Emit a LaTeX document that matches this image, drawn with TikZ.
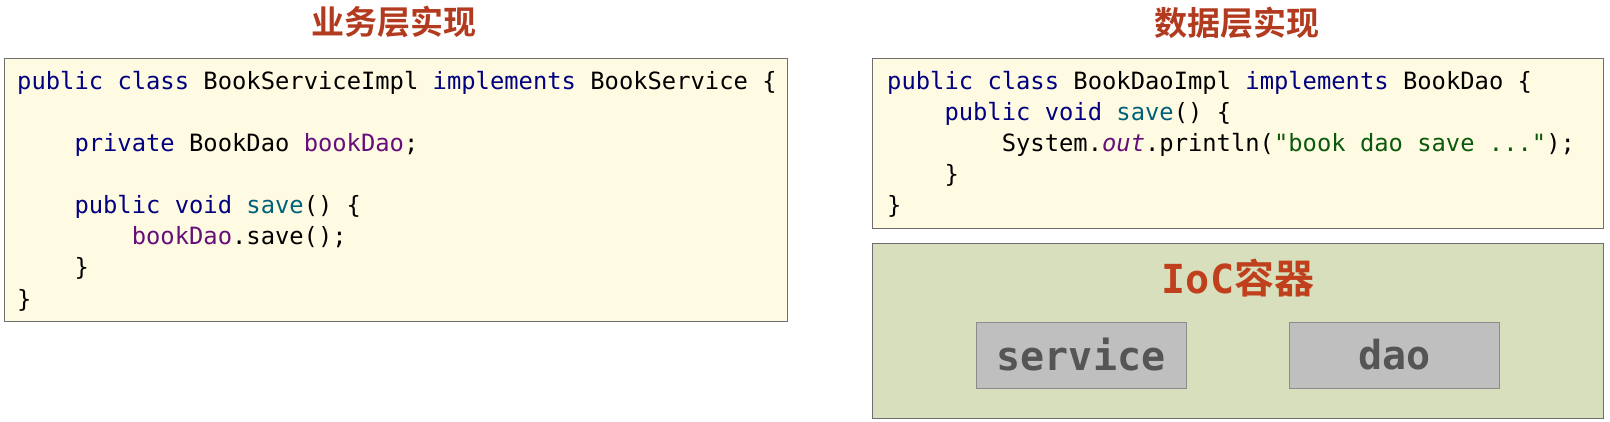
\documentclass[tikz,border=0pt]{standalone}
\usepackage{fontspec}
\newfontfamily\codefont{DejaVu Sans Mono}
\newfontfamily\cjkbold{Noto Sans CJK SC Bold}
\definecolor{codebg}{HTML}{FFFBE3}
\definecolor{iocbg}{HTML}{D7DFBC}
\definecolor{beanbg}{HTML}{BFBFBF}
\definecolor{beanline}{HTML}{8C8C8C}
\definecolor{boxline}{HTML}{6E6E6E}
\definecolor{titlered}{HTML}{B23A1E}
\definecolor{iocred}{HTML}{C0401E}
\definecolor{kwblue}{HTML}{000080}
\definecolor{fldpurple}{HTML}{660E7A}
\definecolor{mthteal}{HTML}{00627A}
\definecolor{strgreen}{HTML}{0B5A0B}
\definecolor{beantext}{HTML}{555555}
\newcommand{\ckw}[1]{\textcolor{kwblue}{#1}}
\newcommand{\cfld}[1]{\textcolor{fldpurple}{#1}}
\newcommand{\cmth}[1]{\textcolor{mthteal}{#1}}
\newcommand{\cstrg}[1]{\textcolor{strgreen}{#1}}
\tikzset{
  codebox/.style={draw=boxline, line width=1.3pt, fill=codebg, anchor=north west, inner sep=0pt},
  iocbox/.style={draw=boxline, line width=1.3pt, fill=iocbg, anchor=north west, inner sep=0pt},
  beanbox/.style={draw=beanline, line width=1pt, fill=beanbg, minimum width=210, minimum height=66, inner sep=0pt,
    text=beantext, font=\codefont\bfseries\fontsize{40}{44}\selectfont},
  codeline/.style={anchor=base west, inner sep=0pt, font=\codefont\fontsize{23.8}{28}\selectfont},
  titletext/.style={text=titlered, font=\cjkbold\fontsize{33}{36}\selectfont, inner sep=0pt},
}
\begin{document}
\begin{tikzpicture}[x=1pt,y=-1pt]
\path[use as bounding box] (0,0) rectangle (1610,422);
% titles
\node[titletext] (t1) at (394,22) {业务层实现};
\node[titletext] (t2) at (1237,23) {数据层实现};
% service code box
\node[codebox, minimum width=783, minimum height=263] (svc) at (4,58) {};
\node[codeline] (s1) at (17,90) {\ckw{public} \ckw{class} BookServiceImpl \ckw{implements} BookService \{};
\node[codeline] (s2) at (74.3,152) {\ckw{private} BookDao \cfld{bookDao};};
\node[codeline] (s3) at (74.3,214) {\ckw{public} \ckw{void} \cmth{save}() \{};
\node[codeline] (s4) at (131.6,245) {\cfld{bookDao}.save();};
\node[codeline] (s5) at (74.3,276) {\}};
\node[codeline] (s6) at (17,307) {\}};
% dao code box
\node[codebox, minimum width=731, minimum height=170] (dao) at (872,58) {};
\node[codeline] (d1) at (887,90) {\ckw{public} \ckw{class} BookDaoImpl \ckw{implements} BookDao \{};
\node[codeline] (d2) at (944.3,121) {\ckw{public} \ckw{void} \cmth{save}() \{};
\node[codeline] (d3) at (1001.6,152) {System.\cfld{\itshape out}.println(\cstrg{"book dao save ..."});};
\node[codeline] (d4) at (944.3,183) {\}};
\node[codeline] (d5) at (887,214) {\}};
% IoC container
\node[iocbox, minimum width=731, minimum height=175] (ioc) at (872,243) {};
\node[text=iocred, inner sep=0pt] (ioclabel) at (1238,278)
  {{\codefont\bfseries\fontsize{40}{44}\selectfont IoC}{\cjkbold\fontsize{40}{44}\selectfont 容器}};
\node[beanbox] (service) at (1081,355) {service};
\node[beanbox] (daobean) at (1394.5,355) {dao};
\end{tikzpicture}
\end{document}
